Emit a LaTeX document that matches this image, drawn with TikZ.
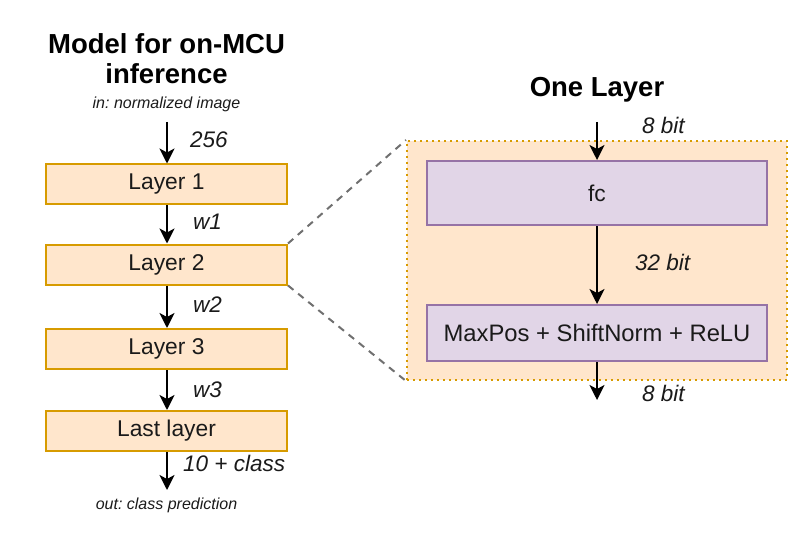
\documentclass[tikz,border=0pt]{standalone}
\usepackage{fontspec}
\setmainfont{Liberation Sans}
\usetikzlibrary{arrows.meta}
\definecolor{orfill}{HTML}{FFE6CC}
\definecolor{ordraw}{HTML}{D79B00}
\definecolor{pufill}{HTML}{E1D5E7}
\definecolor{pudraw}{HTML}{9673A6}
\definecolor{txt}{HTML}{1A1A1A}
\definecolor{dashgray}{HTML}{707070}
\frenchspacing
\tikzset{
  layerbox/.style={draw=ordraw, fill=orfill, line width=2pt, minimum width=241pt, minimum height=40pt, inner sep=0pt, font=\fontsize{22.8}{26}\selectfont, text=txt},
  opbox/.style={draw=pudraw, fill=pufill, line width=2pt, minimum width=340pt, inner sep=0pt, font=\fontsize{22.8}{26}\selectfont, text=txt},
  container/.style={draw=ordraw, fill=orfill, line width=2pt, dash pattern=on 2pt off 4pt, minimum width=380pt, minimum height=239pt, inner sep=0pt},
  flow/.style={draw=black, line width=2pt, -{Stealth[length=15pt,width=15pt,inset=4pt]}},
  zoomline/.style={draw=dashgray, line width=2pt, dash pattern=on 7pt off 6pt},
  lbl/.style={anchor=west, inner sep=0pt, font=\fontsize{22.5}{26}\selectfont\itshape, text=txt},
  title/.style={inner sep=0pt, font=\fontsize{27.5}{30}\selectfont\bfseries, text=black, align=center},
  note/.style={inner sep=0pt, font=\fontsize{16}{18}\selectfont\itshape, text=txt},
}
\begin{document}
\begin{tikzpicture}[x=1pt,y=-1pt]
\useasboundingbox (0,0) rectangle (808,540);
% left column
\node[title, anchor=north] (mtitle) at (166.5,33) {Model for on-MCU\\[0pt]inference};
\node[note] (innote) at (166.5,104) {in: normalized image};
\coordinate (inpt) at (167,122);
\node[layerbox] (l1) at (166.5,184.5) {Layer 1};
\node[layerbox] (l2) at (166.5,264.5) {Layer 2};
\node[layerbox] (l3) at (166.5,349) {Layer 3};
\node[layerbox] (ll) at (166.5,431) {Last layer};
\coordinate (outpt) at (167,490);
\node[note] (outnote) at (166.5,505) {out: class prediction};
\draw[flow] (inpt) -- (l1.north -| inpt);
\draw[flow] (l1.south -| inpt) -- (l2.north -| inpt);
\draw[flow] (l2.south -| inpt) -- (l3.north -| inpt);
\draw[flow] (l3.south -| inpt) -- (ll.north -| inpt);
\draw[flow] (ll.south -| inpt) -- (outpt);
\node[lbl] (t256) at (190,140) {256};
\node[lbl] (tw1) at (193,222) {w1};
\node[lbl] (tw2) at (193,305) {w2};
\node[lbl] (tw3) at (193,390) {w3};
\node[lbl] (tcls) at (183,463) {10 + class};
% right detail
\node[title] (otitle) at (597,90) {One Layer};
\node[container] (box) at (597,260.5) {};
\node[opbox, minimum height=64pt] (fc) at (597,193) {fc};
\node[opbox, minimum height=56pt, font=\fontsize{23.8}{26}\selectfont] (mp) at (597,333) {MaxPos + ShiftNorm + ReLU};
\coordinate (rin) at (597,122);
\coordinate (rout) at (597,400);
\draw[flow] (rin) -- (fc.north);
\draw[flow] (fc.south) -- (mp.north);
\draw[flow] (mp.south) -- (rout);
\node[lbl] (b8a) at (642,125) {8 bit};
\node[lbl] (b32) at (635,262) {32 bit};
\node[lbl] (b8b) at (642,393) {8 bit};
% zoom lines
\draw[zoomline] (l2.north east) -- (box.north west);
\draw[zoomline] (l2.south east) -- (box.south west);
\end{tikzpicture}
\end{document}
